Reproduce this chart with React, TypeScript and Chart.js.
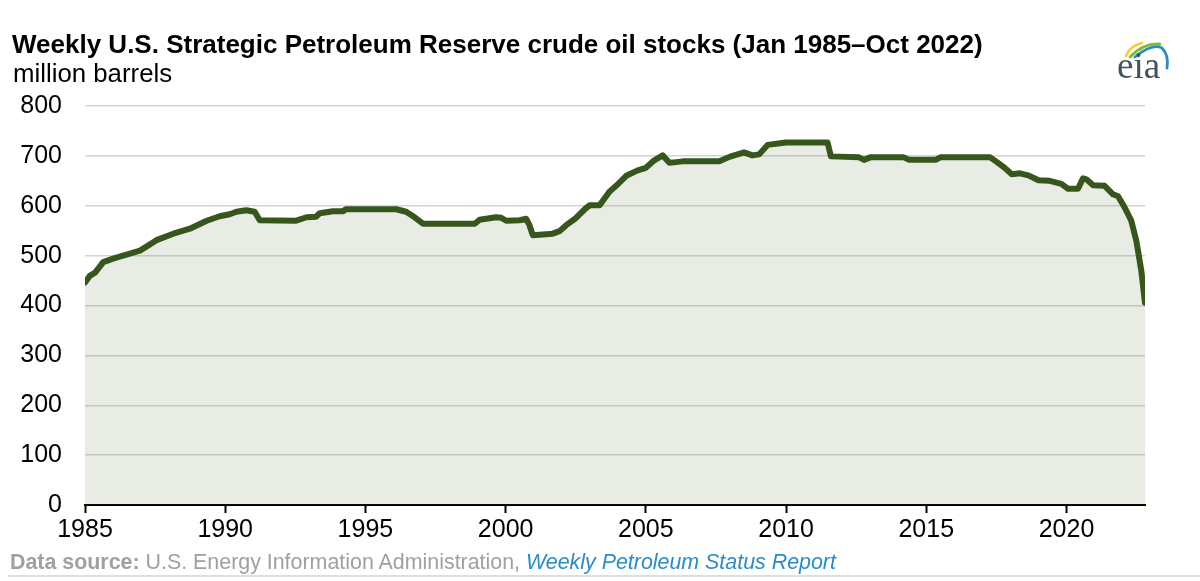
import React, { useEffect, useRef } from "react";
import { Chart, registerables } from "chart.js";

Chart.register(...registerables);

const years: number[] = [
  1985.0, 1985.18, 1985.36, 1985.65, 1986.0, 1986.48, 1986.96, 1987.55, 1988.15, 1988.74,
  1989.34, 1989.8, 1990.16, 1990.4, 1990.75, 1991.05, 1991.23, 1992.53, 1992.9, 1993.24,
  1993.37, 1993.84, 1994.2, 1994.3, 1996.1, 1996.45, 1996.7, 1997.05, 1998.9, 1999.07,
  1999.66, 1999.84, 2000.02, 2000.5, 2000.73, 2000.85, 2000.97, 2001.68, 2001.92, 2002.16,
  2002.5, 2002.86, 2003.0, 2003.35, 2003.7, 2003.94, 2004.3, 2004.71, 2005.0, 2005.3,
  2005.6, 2005.84, 2006.31, 2007.62, 2007.98, 2008.5, 2008.8, 2009.04, 2009.34, 2009.99,
  2010.46, 2011.48, 2011.6, 2012.6, 2012.78, 2013.0, 2014.2, 2014.39, 2015.33, 2015.5,
  2017.28, 2017.51, 2017.75, 2018.05, 2018.34, 2018.64, 2019.0, 2019.4, 2019.82, 2020.06,
  2020.41, 2020.59, 2020.71, 2020.95, 2021.36, 2021.66, 2021.84, 2022.07, 2022.31, 2022.49,
  2022.67, 2022.8,
];

const stocks: number[] = [
  446, 460, 466, 487, 494, 502, 510, 531, 544, 554,
  570, 579, 583, 588, 591, 588, 571, 570, 577, 578,
  585, 589, 589, 593, 593, 588, 579, 564, 564, 572,
  577, 576, 570, 571, 574, 561, 541, 544, 549, 561,
  575, 595, 601, 601, 628, 640, 660, 671, 676, 691,
  701, 686, 689, 689, 698, 707, 701, 703, 722, 727,
  727, 727, 699, 697, 692, 697, 697, 692, 692, 697,
  697, 688, 678, 663, 665, 661, 651, 650, 644, 634,
  634, 655, 653, 641, 640, 623, 619, 597, 570, 530,
  469, 405,
];

const xTickYears: number[] = [1985, 1990, 1995, 2000, 2005, 2010, 2015, 2020];
const yTicks: number[] = [0, 100, 200, 300, 400, 500, 600, 700, 800];

const FONT = "'Liberation Sans', Arial, Helvetica, sans-serif";

export default function App() {
  const canvasRef = useRef<HTMLCanvasElement | null>(null);

  useEffect(() => {
    if (!canvasRef.current) return;
    const points = years.map((x, i) => ({ x, y: stocks[i] }));
    const chart = new Chart(canvasRef.current, {
      type: "line",
      data: {
        datasets: [
          {
            data: points,
            borderColor: "#36561c",
            borderWidth: 6,
            borderJoinStyle: "round",
            borderCapStyle: "round",
            backgroundColor: "rgba(70,100,40,0.12)",
            fill: "origin",
            pointRadius: 0,
            tension: 0,
          },
        ],
      },
      options: {
        animation: false,
        responsive: false,
        maintainAspectRatio: false,
        devicePixelRatio: 1,
        layout: { padding: { left: 0, right: 55, top: 106, bottom: 0 } },
        plugins: {
          legend: { display: false },
          tooltip: { enabled: false },
          title: { display: false },
        },
        scales: {
          x: {
            type: "linear",
            min: 1985,
            max: 2022.8,
            afterBuildTicks: (s: any) => {
              s.ticks = xTickYears.map((v) => ({ value: v }));
            },
            afterFit: (s: any) => {
              s.height = 76;
            },
            grid: {
              drawOnChartArea: false,
              drawTicks: true,
              tickLength: 8,
              tickWidth: 2,
              color: "#000",
            },
            border: { display: true, color: "#000", width: 2 },
            ticks: {
              color: "#000",
              padding: 2,
              maxRotation: 0,
              autoSkip: false,
              font: { family: FONT, size: 25 },
              callback: (v: any) => String(v),
            },
          },
          y: {
            type: "linear",
            min: 0,
            max: 800,
            afterBuildTicks: (s: any) => {
              s.ticks = yTicks.map((v) => ({ value: v }));
            },
            afterFit: (s: any) => {
              s.width = 85;
            },
            grid: {
              drawTicks: false,
              color: (ctx: any) => (ctx.tick && ctx.tick.value === 0 ? "rgba(0,0,0,0)" : "#d4d4d4"),
              lineWidth: 1.5,
            },
            border: { display: false },
            ticks: {
              color: "#000",
              padding: 23,
              font: { family: FONT, size: 25 },
              callback: (v: any) => String(v),
            },
          },
        },
      },
    });
    return () => chart.destroy();
  }, []);

  return (
    <div
      style={{
        position: "absolute",
        left: 0,
        top: 0,
        width: 1200,
        height: 581,
        background: "#fff",
        fontFamily: FONT,
        overflow: "hidden",
      }}
    >
      <canvas ref={canvasRef} width={1200} height={581} style={{ position: "absolute", left: 0, top: 0 }} />
      <div
        style={{
          position: "absolute",
          left: 12,
          top: 29,
          fontSize: 26,
          fontWeight: "bold",
          color: "#000",
          whiteSpace: "nowrap",
          lineHeight: "30px",
        }}
      >
        Weekly U.S. Strategic Petroleum Reserve crude oil stocks (Jan 1985–Oct 2022)
      </div>
      <div
        style={{
          position: "absolute",
          left: 13,
          top: 58,
          fontSize: 25.8,
          color: "#000",
          whiteSpace: "nowrap",
          lineHeight: "30px",
        }}
      >
        million barrels
      </div>
      <svg
        width={80}
        height={60}
        viewBox="0 0 80 60"
        style={{ position: "absolute", left: 1110, top: 31 }}
      >
        <path d="M16 25 Q20 15 32 12" stroke="#f2d230" strokeWidth={2.8} fill="none" strokeLinecap="round" />
        <path d="M20 26 Q33 12 50 13" stroke="#7dbb3c" strokeWidth={2.8} fill="none" strokeLinecap="round" />
        <path d="M25 26 Q42 12 52 17 Q59 24 57 37" stroke="#2c8ac4" strokeWidth={2.8} fill="none" strokeLinecap="round" />
        <text x={7} y={47} fontFamily="'Liberation Serif', 'DejaVu Serif', serif" fontSize={37} fill="#44525e">
          eia
        </text>
      </svg>
      <div
        style={{
          position: "absolute",
          left: 10,
          top: 550,
          fontSize: 21.4,
          color: "#a0a0a0",
          whiteSpace: "nowrap",
          lineHeight: "25px",
        }}
      >
        <span style={{ fontWeight: "bold" }}>Data source:</span> U.S. Energy Information Administration,{" "}
        <span style={{ fontStyle: "italic", color: "#2a8cc8" }}>Weekly Petroleum Status Report</span>
      </div>
      <div
        style={{
          position: "absolute",
          left: 8,
          top: 575,
          width: 1192,
          height: 2,
          background: "#dedede",
        }}
      />
    </div>
  );
}
